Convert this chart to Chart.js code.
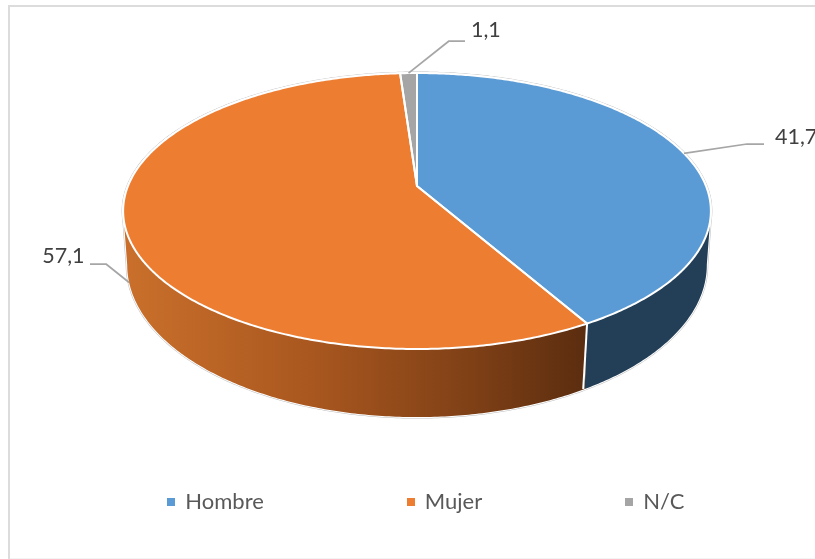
<!DOCTYPE html>
<html>
<head>
<meta charset="utf-8">
<style>html,body{margin:0;padding:0;background:#fff}canvas{display:block}</style>
<script src="https://cdn.jsdelivr.net/npm/chart.js@4"></script>
</head>
<body>
<canvas id="c" width="815" height="559"></canvas>
<script>
const categories = ['Hombre', 'Mujer', 'N/C'];
const values = [41.7, 57.1, 1.1];
const topColors = ['#5B9BD5', '#ED7D31', '#A5A5A5'];

// perspective projection of the pie's unit circle
const CX = 417, K = -0.1812;
const topDisc = {r: 289, a: 99.76, b: 186};
const lowDisc = {r: 285, a: 104, b: 237.5};
function project(d, t) {
  const u = Math.cos(t), v = Math.sin(t), w = 1 + K * v;
  return {x: CX + d.r * u / w, y: (d.a * v + d.b) / w};
}
function rim(ctx, d, a0, a1, first) {
  const n = Math.max(2, Math.ceil(Math.abs(a1 - a0) / 0.01));
  for (let i = 0; i <= n; i++) {
    const p = project(d, a0 + (a1 - a0) * i / n);
    if (i === 0 && first) ctx.moveTo(p.x, p.y); else ctx.lineTo(p.x, p.y);
  }
}
// visible wall runs between the two silhouette tangents of the disc
const VIS0 = Math.asin(-K), VIS1 = Math.PI - Math.asin(-K);

const leaders = [
  {disc: topDisc, elbow: [747, 144], end: [764, 144], text: [775, 137], align: 'left'},
  {disc: lowDisc, elbow: [106, 264], end: [90, 264], text: [84.5, 256], align: 'right'},
  {disc: topDisc, elbow: [449, 41], end: [465, 41], text: [471, 30], align: 'left'}
];

const pie3d = {
  id: 'pie3d',
  afterLayout(chart) {
    const lg = chart.legend, pad = lg.options.labels.padding;
    lg.top = 491.3 - pad;
    lg.bottom = lg.top + 400;
    lg.left = 168.3 - pad;
    lg.right = 2000;
  },
  beforeDraw(chart) {
    const ctx = chart.ctx;
    ctx.save();
    ctx.fillStyle = '#fff';
    ctx.fillRect(0, 0, 815, 559);
    ctx.fillStyle = '#DCDCDC';
    ctx.fillRect(8, 5, 807, 2);
    ctx.fillRect(8, 5, 2, 554);
    ctx.fillStyle = '#F4F4F4';
    ctx.fillRect(10, 558, 805, 1);
    ctx.restore();
  },
  beforeDatasetsDraw(chart) {
    const ctx = chart.ctx, arcs = chart.getDatasetMeta(0).data;
    ctx.save();
    ctx.lineJoin = 'round';

    // outer silhouette: hairline + white edge
    const outline = () => {
      const s = project(topDisc, VIS0), e = project(topDisc, VIS1);
      ctx.beginPath();
      ctx.moveTo(s.x, s.y);
      rim(ctx, lowDisc, VIS0, VIS1, false);
      ctx.lineTo(e.x, e.y);
      rim(ctx, topDisc, 0, Math.PI * 2, true);
      ctx.closePath();
    };
    outline();
    ctx.strokeStyle = '#BFBFBF'; ctx.lineWidth = 3; ctx.stroke();
    outline();
    ctx.strokeStyle = '#fff'; ctx.lineWidth = 2; ctx.stroke();

    // side walls
    const orangeGrad = ctx.createLinearGradient(130, 0, 585, 0);
    orangeGrad.addColorStop(0, '#C96F2B');
    orangeGrad.addColorStop(0.4, '#A9571F');
    orangeGrad.addColorStop(0.75, '#7F4016');
    orangeGrad.addColorStop(1, '#5B2D0F');
    const sideFill = ['#223F57', orangeGrad, '#636363'];
    arcs.forEach((arc, i) => {
      const a0 = Math.max(arc.startAngle, VIS0), a1 = Math.min(arc.endAngle, VIS1);
      if (a1 <= a0) return;
      ctx.beginPath();
      rim(ctx, topDisc, a0, a1, true);
      rim(ctx, lowDisc, a1, a0, false);
      ctx.closePath();
      ctx.fillStyle = sideFill[i];
      ctx.fill();
    });

    // seams between walls
    arcs.forEach(arc => {
      const t = arc.endAngle;
      if (t < VIS0 || t > VIS1) return;
      const p = project(topDisc, t), q = project(lowDisc, t);
      ctx.beginPath(); ctx.moveTo(p.x, p.y); ctx.lineTo(q.x - 1.5, q.y);
      ctx.strokeStyle = '#fff'; ctx.lineWidth = 2; ctx.stroke();
    });

    // top faces
    const apex = {x: CX, y: topDisc.b};
    arcs.forEach((arc, i) => {
      ctx.beginPath();
      ctx.moveTo(apex.x, apex.y);
      rim(ctx, topDisc, arc.startAngle, arc.endAngle, false);
      ctx.closePath();
      ctx.fillStyle = topColors[i];
      ctx.fill();
    });
    arcs.forEach(arc => {
      ctx.beginPath();
      ctx.moveTo(apex.x, apex.y);
      rim(ctx, topDisc, arc.startAngle, arc.endAngle, false);
      ctx.closePath();
      ctx.strokeStyle = '#fff'; ctx.lineWidth = 2; ctx.stroke();
    });

    // leader lines and value labels
    arcs.forEach((arc, i) => {
      const L = leaders[i], mid = (arc.startAngle + arc.endAngle) / 2;
      const p = project(L.disc, mid);
      ctx.beginPath();
      ctx.moveTo(p.x, p.y);
      ctx.lineTo(L.elbow[0], L.elbow[1]);
      ctx.lineTo(L.end[0], L.end[1]);
      ctx.strokeStyle = '#A6A6A6'; ctx.lineWidth = 1.75; ctx.stroke();
      ctx.fillStyle = '#404040';
      ctx.font = '21.5px Lato';
      ctx.textAlign = L.align;
      ctx.textBaseline = 'middle';
      ctx.fillText(String(values[i]).replace('.', ','), L.text[0], L.text[1]);
    });
    ctx.restore();
    return false;
  }
};

function marker(color) {
  const m = document.createElement('canvas');
  m.width = 8; m.height = 8;
  const g = m.getContext('2d');
  g.fillStyle = color; g.fillRect(0, 0, 8, 8);
  return m;
}

new Chart(document.getElementById('c'), {
  type: 'pie',
  data: {
    labels: categories,
    datasets: [{data: values, backgroundColor: topColors, borderColor: '#fff', borderWidth: 2}]
  },
  plugins: [pie3d],
  options: {
    responsive: false,
    animation: false,
    plugins: {
      tooltip: {enabled: false},
      legend: {
        position: 'bottom',
        align: 'start',
        labels: {
          font: {family: 'Lato', size: 22},
          color: '#595959',
          padding: 144,
          usePointStyle: true,
          pointStyleWidth: 6,
          generateLabels(chart) {
            return categories.map((t, i) => ({
              text: t, pointStyle: marker(topColors[i]), fontColor: '#595959',
              fillStyle: topColors[i], strokeStyle: topColors[i], lineWidth: 0, index: i, hidden: false
            }));
          }
        }
      }
    }
  }
});
</script>
</body>
</html>
